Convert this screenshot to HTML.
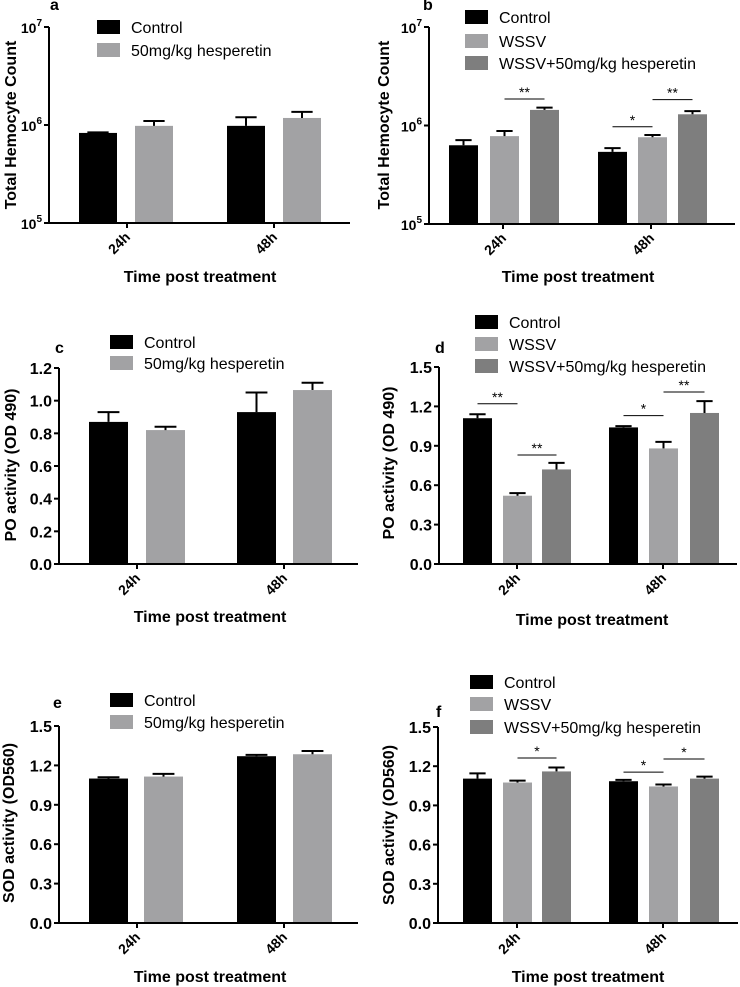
<!DOCTYPE html>
<html><head><meta charset="utf-8">
<style>
html,body{margin:0;padding:0;background:#fff;}
svg{display:block;font-family:"Liberation Sans",Arial,sans-serif;}
</style></head>
<body>
<svg id="fig" width="740" height="987" viewBox="0 0 740 987"></svg>
<script>
// ---- data ----
const categories = ["24h", "48h"];
const seriesTwo = ["Control", "50mg/kg hesperetin"];
const seriesThree = ["Control", "WSSV", "WSSV+50mg/kg hesperetin"];

const aValues = [[830000, 980000], [980000, 1180000]];
const aErrors = [[840000, 1100000], [1200000, 1360000]];
const bValues = [[630000, 780000, 1440000], [540000, 760000, 1300000]];
const bErrors = [[710000, 880000, 1520000], [590000, 800000, 1400000]];
const cValues = [[0.87, 0.82], [0.93, 1.065]];
const cErrors = [[0.93, 0.84], [1.05, 1.11]];
const dValues = [[1.11, 0.52, 0.72], [1.04, 0.88, 1.15]];
const dErrors = [[1.14, 0.54, 0.77], [1.05, 0.93, 1.24]];
const eValues = [[1.10, 1.115], [1.27, 1.285]];
const eErrors = [[1.11, 1.135], [1.28, 1.31]];
const fValues = [[1.105, 1.075, 1.16], [1.085, 1.045, 1.105]];
const fErrors = [[1.145, 1.09, 1.19], [1.095, 1.06, 1.12]];

const logTicks = [5, 6, 7];
const poTicksC = ["0.0", "0.2", "0.4", "0.6", "0.8", "1.0", "1.2"];
const ticks15 = ["0.0", "0.3", "0.6", "0.9", "1.2", "1.5"];

// significance: [group, barFrom, barTo, yValue, label]
const bSig = [[0, 1, 2, 1860000, "**"], [1, 0, 1, 970000, "*"], [1, 1, 2, 1830000, "**"]];
const dSig = [[0, 0, 1, 1.22, "**"], [0, 1, 2, 0.83, "**"], [1, 0, 1, 1.13, "*"], [1, 1, 2, 1.31, "**"]];
const fSig = [[0, 1, 2, 1.263, "*"], [1, 0, 1, 1.155, "*"], [1, 1, 2, 1.255, "*"]];

const colors = ["#000000", "#a2a2a4", "#7e7e7e"];
const colorsTwo = ["#000000", "#a2a2a4"];

// ---- layout ----
const panels = [
 {id:"a", log:true, vals:aValues, errs:aErrors, series:seriesTwo, cols:colorsTwo, ticks:logTicks, ymin:5, ymax:7,
  ax:49, top:27, bot:223, right:350, barStarts:[[79,135],[227,283]], bw:38, tickX:[127,274],
  legX:97, legY:[27,50], letter:[50,10], ytitle:"Total Hemocyte Count", ytx:12, yty:125, xtx:200, xty:282},
 {id:"b", log:true, vals:bValues, errs:bErrors, series:seriesThree, cols:colors, ticks:logTicks, ymin:5, ymax:7, sig:bSig,
  ax:429, top:27, bot:224, right:735, barStarts:[[449,490,530],[598,638,678]], bw:29, tickX:[503,651],
  legX:465, legY:[17,41,63], letter:[423,10], ytitle:"Total Hemocyte Count", ytx:385, yty:125, xtx:578, xty:282},
 {id:"c", log:false, vals:cValues, errs:cErrors, series:seriesTwo, cols:colorsTwo, ticks:poTicksC, ymin:0, ymax:1.2,
  ax:59, top:368, bot:564, right:358, barStarts:[[89,146],[237,293]], bw:39, tickX:[137,284],
  legX:110, legY:[342,363], letter:[55,353], ytitle:"PO activity (OD 490)", ytx:12, yty:465, xtx:210, xty:622},
 {id:"d", log:false, vals:dValues, errs:dErrors, series:seriesThree, cols:colors, ticks:ticks15, ymin:0, ymax:1.5, sig:dSig,
  ax:439, top:367, bot:564, right:737, barStarts:[[463,503,542],[609,649,690]], bw:29, tickX:[517,663],
  legX:475, legY:[322,344,366], letter:[435,353], ytitle:"PO activity (OD 490)", ytx:390, yty:463, xtx:592, xty:625},
 {id:"e", log:false, vals:eValues, errs:eErrors, series:seriesTwo, cols:colorsTwo, ticks:ticks15, ymin:0, ymax:1.5,
  ax:59, top:726, bot:923, right:358, barStarts:[[89,144],[237,293]], bw:39, tickX:[137,284],
  legX:110, legY:[700,722], letter:[53,708], ytitle:"SOD activity (OD560)", ytx:10, yty:823, xtx:210, xty:982},
 {id:"f", log:false, vals:fValues, errs:fErrors, series:seriesThree, cols:colors, ticks:ticks15, ymin:0, ymax:1.5, sig:fSig,
  ax:438, top:727, bot:923, right:738, barStarts:[[463,503,542],[609,649,690]], bw:29, tickX:[517,663],
  legX:470, legY:[682,704,727], letter:[436,717], ytitle:"SOD activity (OD560)", ytx:390, yty:825, xtx:588, xty:982}
];

const NS = "http://www.w3.org/2000/svg";
const svg = document.getElementById("fig");
function mk(tag, attrs, parent, text){
  const e = document.createElementNS(NS, tag);
  for (const k in attrs) e.setAttribute(k, attrs[k]);
  if (text !== undefined) e.textContent = text;
  (parent || svg).appendChild(e);
  return e;
}

panels.forEach(p => {
  const g = mk("g", {});
  
  
  const yScale = v => {
    const t = p.log ? Math.log10(v) : v;
    return p.bot - (t - p.ymin) / (p.ymax - p.ymin) * (p.bot - p.top);
  };
  // bars + errors
  p.vals.forEach((grp, gi) => {
    grp.forEach((v, si) => {
      const x = p.barStarts[gi][si];
      const y = yScale(v);
      const r = mk("rect", {x:x, y:y, width:p.bw, height:p.bot - y, fill:p.cols[si]}, g);
      
      
      const ey = yScale(p.errs[gi][si]);
      const cx = x + p.bw / 2;
      const el = mk("path", {d:`M${cx} ${y}V${ey}M${cx - p.bw*0.28} ${ey}H${cx + p.bw*0.28}`, stroke:"#000", "stroke-width":2, fill:"none"}, g);
      
      
    });
  });
  // axes
  const axes = mk("path", {d:`M${p.ax} ${p.top}V${p.bot}H${p.right}`, stroke:"#000", "stroke-width":2, fill:"none"}, g);
  
  
  // y ticks
  p.ticks.forEach(t => {
    const val = p.log ? Math.pow(10, t) : parseFloat(t);
    const y = yScale(val);
    mk("line", {x1:p.ax - 5, x2:p.ax, y1:y, y2:y, stroke:"#000", "stroke-width":2}, g);
    let lbl;
    if (p.log) {
      lbl = mk("text", {x:p.ax - 7, y:y + 6, "text-anchor":"end", "font-size":14, "font-weight":"bold"}, g, "10");
      mk("tspan", {dy:-7, "font-size":10}, lbl, String(t));
    } else {
      lbl = mk("text", {x:p.ax - 7, y:y + 6, "text-anchor":"end", "font-size":16, "font-weight":"bold"}, g, t);
    }
    
    
  });
  // x ticks
  categories.forEach((c, i) => {
    const x = p.tickX[i];
    mk("line", {x1:x, x2:x, y1:p.bot, y2:p.bot + 5, stroke:"#000", "stroke-width":2}, g);
    const t = mk("text", {x:x + 4, y:p.bot + 15, "text-anchor":"end", "font-size":14, "font-weight":"bold", transform:`rotate(-45 ${x + 4} ${p.bot + 15})`}, g, c);
    
    
  });
  // titles
  const yt = mk("text", {x:p.ytx, y:p.yty, "text-anchor":"middle", "font-size":16, "font-weight":"bold", transform:`rotate(-90 ${p.ytx} ${p.yty})`, "dominant-baseline":"middle"}, g, p.ytitle);
  
  
  const xt = mk("text", {x:p.xtx, y:p.xty, "text-anchor":"middle", "font-size":16, "font-weight":"bold"}, g, "Time post treatment");
  
  
  const lt = mk("text", {x:p.letter[0], y:p.letter[1], "font-size":16, "font-weight":"bold"}, g, p.id);
  
  
  // legend
  p.series.forEach((s, i) => {
    const y = p.legY[i];
    const lg = mk("g", {}, g);
    
    
    mk("rect", {x:p.legX, y:y - 7, width:23, height:14, fill:p.cols[i]}, lg);
    mk("text", {x:p.legX + 34, y:y + 6, "font-size":16}, lg, s);
  });
  // significance
  (p.sig || []).forEach(sg => {
    const [gi, a, b, v, lab] = sg;
    const x1 = p.barStarts[gi][a] + p.bw / 2, x2 = p.barStarts[gi][b] + p.bw / 2;
    const y = yScale(v);
    const sl = mk("line", {x1:x1, x2:x2, y1:y, y2:y, stroke:"#000", "stroke-width":1}, g);
    
    
    const st = mk("text", {x:(x1 + x2) / 2, y:y - 2, "text-anchor":"middle", "font-size":14}, g, lab);
    
    
  });
});
</script>
</body></html>
